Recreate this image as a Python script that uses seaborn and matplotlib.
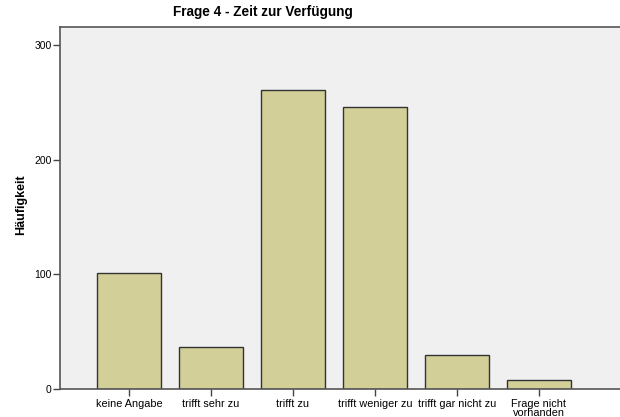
import matplotlib
matplotlib.use("Agg")
import matplotlib.pyplot as plt
import seaborn as sns
import pandas as pd

categories = ["keine Angabe", "trifft sehr zu", "trifft zu", "trifft weniger zu",
              "trifft gar nicht zu", "Frage nicht\nvorhanden"]
counts = [101, 37, 261, 246, 30, 8]
yticks = [0, 100, 200, 300]

df = pd.DataFrame({"Antwort": categories, "Häufigkeit": counts})

sns.set_style("white")
plt.rcParams["font.family"] = ["Liberation Sans", "DejaVu Sans"]
plt.rcParams["text.color"] = "black"
plt.rcParams["axes.labelcolor"] = "black"
plt.rcParams["xtick.color"] = "black"
plt.rcParams["ytick.color"] = "black"

fig = plt.figure(figsize=(6.2, 4.17), dpi=100)
ax = fig.add_axes([60 / 620, 28 / 417, 560 / 620, 362 / 417])
ax.set_facecolor("#F0F0F0")

sns.barplot(data=df, x="Antwort", y="Häufigkeit", ax=ax, color="#D3CF98",
            saturation=1, width=0.78, edgecolor="#333333", linewidth=1.0)

ax.set_xlim(-0.84, 5.99)
ax.set_ylim(0, 315.6)
ax.set_yticks(yticks)
ax.set_yticklabels([str(v) for v in yticks], fontsize=7.5)
ax.tick_params(axis="x", labelsize=7.8, length=5, width=1, color="#444444",
               labelcolor="black", pad=2, direction="out")
ax.tick_params(axis="y", length=5, width=1, color="#444444", labelcolor="black",
               pad=1, direction="out")
ax.tick_params(bottom=True, left=True)
ax.set_xlabel("")
ax.set_ylabel("Häufigkeit", fontsize=9, fontweight="bold", color="black")
ax.yaxis.set_label_coords(-33 / 560, 0.51)
for lab in ax.get_xticklabels():
    lab.set_linespacing(0.95)

for side in ["left", "bottom", "top"]:
    ax.spines[side].set_visible(True)
    ax.spines[side].set_color("#555555")
    ax.spines[side].set_linewidth(1.2)
ax.spines["right"].set_visible(False)

fig.text(263 / 620, 1 - 12 / 417, "Frage 4 - Zeit zur Verfügung", ha="center", va="center",
         fontsize=9.8, fontweight="bold", color="black")

fig.savefig("out.png", dpi=100, facecolor="white")
